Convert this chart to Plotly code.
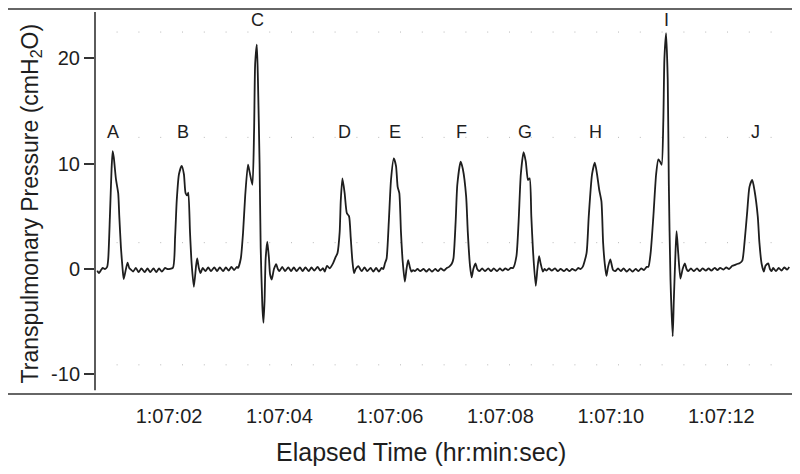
import plotly.graph_objects as go

# ---- data (time in seconds after 1:07:00, pressure in cmH2O) ----
time_s = [
    60.70, 60.73, 60.77, 60.80, 60.84, 60.88, 60.90, 60.93, 60.96, 60.98, 61.00, 61.04, 61.08, 61.10, 61.13, 61.16, 61.18, 61.22, 61.25, 61.28, 61.32,
    61.35, 61.40, 61.45, 61.50, 61.56, 61.61, 61.66, 61.72, 61.77, 61.82, 61.87, 61.93, 61.97,
    62.07, 62.11, 62.14, 62.18, 62.23, 62.27, 62.30, 62.33, 62.35, 62.38, 62.41, 62.45, 62.49, 62.51, 62.54, 62.57, 62.61,
    62.66, 62.71, 62.76, 62.82, 62.87, 62.92, 62.98, 63.03, 63.08, 63.13, 63.18, 63.23,
    63.25, 63.30, 63.34, 63.38, 63.43, 63.46, 63.51, 63.54, 63.56, 63.59, 63.61, 63.64, 63.66, 63.69, 63.71, 63.73, 63.75, 63.78, 63.81, 63.83, 63.86, 63.90, 63.94, 63.97,
    64.00, 64.05, 64.10, 64.16, 64.21, 64.26, 64.31, 64.37, 64.42, 64.47, 64.53, 64.58, 64.63, 64.69, 64.74, 64.79, 64.82, 64.86, 64.91, 64.97, 65.02, 65.05,
    65.09, 65.11, 65.14, 65.18, 65.22, 65.26, 65.29, 65.32, 65.35, 65.38, 65.43, 65.46,
    65.49, 65.54, 65.59, 65.65, 65.70, 65.75, 65.80, 65.85, 65.88,
    65.91, 65.94, 65.98, 66.02, 66.07, 66.11, 66.14, 66.17, 66.20, 66.23, 66.27, 66.30, 66.33, 66.36, 66.39, 66.42,
    66.45, 66.50, 66.55, 66.61, 66.66, 66.71, 66.76, 66.82, 66.87, 66.92, 66.98, 67.03, 67.07,
    67.12, 67.15, 67.19, 67.22, 67.28, 67.32, 67.38, 67.41, 67.45, 67.48, 67.51, 67.55, 67.58,
    67.62, 67.67, 67.72, 67.78, 67.83, 67.88, 67.94, 67.99, 68.04, 68.09, 68.14, 68.19,
    68.23, 68.29, 68.33, 68.37, 68.42, 68.46, 68.50, 68.53, 68.56, 68.59, 68.64, 68.67, 68.70, 68.73, 68.77, 68.80,
    68.83, 68.88, 68.93, 68.99, 69.04, 69.09, 69.15, 69.20, 69.25, 69.30, 69.36, 69.41, 69.45,
    69.49, 69.56, 69.60, 69.66, 69.71, 69.75, 69.79, 69.83, 69.86, 69.89, 69.92, 69.95, 69.99, 70.04,
    70.08, 70.13, 70.18, 70.23, 70.29, 70.34, 70.39, 70.45, 70.50, 70.55, 70.60, 70.65,
    70.68, 70.72, 70.77, 70.82, 70.86, 70.89, 70.92, 70.95, 70.97, 71.00, 71.03, 71.05, 71.08, 71.12, 71.14, 71.17, 71.19, 71.22, 71.26, 71.30, 71.34, 71.37,
    71.40, 71.45, 71.50, 71.56, 71.61, 71.66, 71.72, 71.77, 71.82, 71.88, 71.93, 71.98, 72.04, 72.09, 72.14, 72.20, 72.25, 72.30,
    72.33, 72.38, 72.42, 72.47, 72.51, 72.56, 72.60, 72.66, 72.69, 72.73, 72.77, 72.80, 72.85, 72.88, 72.91,
    72.94, 72.99, 73.04, 73.09, 73.14, 73.19, 73.23,
]
pressure = [
    -0.15, -0.4, -0.1, 0.1, 0.0, 0.2, 1.0, 5.0, 9.5, 11.2, 10.6, 8.5, 7.2, 5.0, 2.0, 0.0, -0.95, 0.0, 0.6, 0.1, -0.1,
    -0.25, 0.1, -0.3, 0.05, -0.3, 0.05, -0.3, 0.05, -0.3, 0.05, -0.25, 0.1, 0.0,
    0.1, 3.0, 6.5, 9.0, 9.8, 9.0, 7.2, 7.0, 7.25, 3.5, 0.5, -1.7, 0.3, 1.0, 0.1, -0.4, 0.1,
    -0.2, 0.15, -0.2, 0.15, -0.2, 0.15, -0.2, 0.15, -0.15, 0.2, -0.1, 0.2,
    0.1, 1.0, 3.4, 7.0, 9.9, 9.2, 8.0, 13.0, 19.5, 21.3, 18.0, 10.0, 2.0, -3.5, -5.1, -3.0, 1.0, 2.6, 1.0, -0.5, -1.0, 0.0, 0.47, 0.0,
    -0.2, 0.2, -0.2, 0.15, -0.2, 0.15, -0.2, 0.15, -0.2, 0.15, -0.2, 0.15, -0.15, 0.2, -0.15, 0.07, -0.25, 0.3, 0.07, 0.54, 1.17, 1.5,
    3.5, 6.5, 8.6, 7.2, 5.3, 5.0, 3.0, 0.8, -0.4, 0.0, 0.28, 0.0,
    -0.2, 0.15, -0.2, 0.1, -0.25, 0.1, -0.25, 0.1, 0.0,
    0.54, 1.0, 4.5, 8.5, 10.5, 9.8, 7.8, 7.2, 3.5, 0.8, -1.2, 0.0, 0.85, 0.2, -0.25, -0.1,
    -0.2, 0.0, -0.2, 0.0, -0.25, 0.0, -0.25, 0.0, -0.2, 0.05, -0.15, 0.1, 0.2,
    0.5, 1.0, 4.5, 8.0, 10.2, 9.5, 6.9, 3.5, 0.3, -0.8, 0.0, 0.54, 0.0,
    -0.2, 0.05, -0.2, 0.05, -0.2, 0.05, -0.2, 0.05, -0.15, 0.05, -0.1, 0.1,
    0.1, 1.2, 4.5, 9.0, 11.1, 10.2, 8.45, 8.6, 5.0, 1.8, -1.6, 0.0, 1.23, 0.5, -0.25, 0.0,
    -0.15, 0.05, -0.15, 0.05, -0.2, 0.0, -0.2, 0.0, -0.2, 0.0, -0.15, 0.1, 0.0,
    0.2, 1.5, 5.0, 9.0, 10.1, 9.0, 7.5, 6.4, 2.5, 0.5, -0.66, 0.2, 0.92, -0.1,
    -0.2, 0.05, -0.2, 0.05, -0.25, 0.0, -0.25, 0.0, -0.2, 0.05, -0.1, 0.2,
    0.2, 1.5, 5.0, 9.0, 10.4, 10.2, 9.9, 14.0, 20.0, 22.4, 18.0, 8.0, -1.0, -6.4, -3.0, 1.5, 3.6, 1.5, -0.9, 0.0, 0.54, 0.0,
    -0.2, 0.05, -0.2, 0.05, -0.2, 0.05, -0.15, 0.05, -0.15, 0.1, -0.1, 0.1, -0.05, 0.15, 0.0, 0.3, 0.4, 0.5,
    0.55, 0.8, 2.5, 5.5, 7.8, 8.45, 7.5, 5.0, 2.5, 0.5, -0.25, 0.3, 0.54, 0.0, -0.2,
    0.1, -0.2, 0.1, -0.15, 0.15, -0.05, 0.2,
]

peak_labels = ["A", "B", "C", "D", "E", "F", "G", "H", "I", "J"]
peak_label_time = [60.99, 62.25, 63.60, 65.17, 66.09, 67.30, 68.44, 69.73, 71.00, 72.62]
peak_label_value = [13.0, 13.0, 23.6, 13.0, 13.0, 13.0, 13.0, 13.0, 23.6, 13.0]

x_tick_vals = [62, 64, 66, 68, 70, 72]
x_tick_text = ["1:07:02", "1:07:04", "1:07:06", "1:07:08", "1:07:10", "1:07:12"]
y_tick_vals = [-10, 0, 10, 20]
y_tick_text = ["-10", "0", "10", "20"]
grid_values = [22.5, 12.5, 2.5, -9.1]

FONT = "Liberation Sans, Arial, Helvetica, sans-serif"
INK = "#1e1e1e"

fig = go.Figure()
fig.add_trace(go.Scatter(
    x=time_s, y=pressure, mode="lines",
    line=dict(color=INK, width=1.8, shape="spline", smoothing=0.6),
    showlegend=False, hoverinfo="skip",
))

for gv in grid_values:
    fig.add_shape(type="line", xref="paper", yref="y", x0=0.031, x1=1.0, y0=gv, y1=gv,
                  line=dict(color="#b8b8b8", width=1, dash="1px,20.8px"), layer="below")

# frame lines (top and bottom rules)
for py in [0, 1]:
    fig.add_shape(type="line", xref="paper", yref="paper", x0=-0.125, x1=1.0, y0=py, y1=py,
                  line=dict(color="#333333", width=1.6))
# left axis line
fig.add_shape(type="line", xref="paper", yref="paper", x0=0, x1=0, y0=0.01, y1=0.992,
              line=dict(color="#333333", width=1.6))

for lab, t, v in zip(peak_labels, peak_label_time, peak_label_value):
    fig.add_annotation(x=t, y=v, text=lab, showarrow=False,
                       font=dict(family=FONT, size=18, color=INK),
                       xanchor="center", yanchor="middle")

fig.add_annotation(xref="paper", yref="paper", x=-0.0918, y=0.495,
                   text="Transpulmonary Pressure (cmH<sub>2</sub>O)", textangle=-90,
                   showarrow=False, font=dict(family=FONT, size=23, color=INK),
                   xanchor="center", yanchor="middle")
fig.add_annotation(xref="paper", yref="paper", x=0.4677, y=-0.1506,
                   text="Elapsed Time (hr:min:sec)",
                   showarrow=False, font=dict(family=FONT, size=25, color=INK),
                   xanchor="center", yanchor="middle")

# the page body adds an 8px offset, so the figure is sized/placed to compensate
fig.update_layout(
    width=792, height=466,
    margin=dict(l=87, r=8, t=1, b=80, autoexpand=False),
    paper_bgcolor="white", plot_bgcolor="white",
    font=dict(family=FONT, color=INK),
)
fig.update_xaxes(range=[60.66, 73.28], tickvals=x_tick_vals, ticktext=x_tick_text,
                 automargin=False, ticklabelstandoff=8,
                 showgrid=False, zeroline=False, showline=False, ticks="",
                 tickfont=dict(size=20, family=FONT, color=INK))
fig.update_yaxes(range=[-11.87, 24.69], tickvals=y_tick_vals, ticktext=y_tick_text,
                 automargin=False,
                 showgrid=False, zeroline=False, showline=False,
                 ticks="outside", ticklen=10, tickwidth=1.5, tickcolor="#333333",
                 tickfont=dict(size=20, family=FONT, color=INK))

fig.write_html("out.html")
